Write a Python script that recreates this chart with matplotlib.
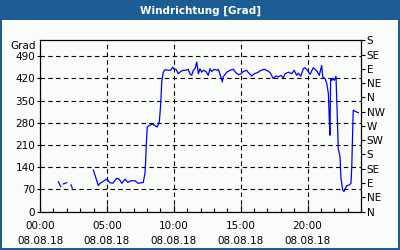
"""
Windrichtung 08.08.18 - Tagesverlauf
"""

import numpy as np
import matplotlib
matplotlib.use("Agg")
import matplotlib.pyplot as plt
from matplotlib.patches import Rectangle
from matplotlib.transforms import blended_transform_factory

# Zeit in Stunden (08.08.18), NaN = Messluecke
hours = [
    1.37, 1.55, np.nan,
    1.74, 2.0, np.nan,
    2.32, 2.41, np.nan,
    3.99, 4.36, 4.49, 4.99, 5.23, 5.44, 5.73, 5.93, 6.11, 6.36, 6.56, 6.80,
    7.10, 7.35, 7.72, 7.85, 7.89, 7.95, 8.02, 8.22, 8.40, 8.60, 8.77, 8.92,
    9.02, 9.10, 9.22, 9.35, 9.59, 9.77, 9.92, 10.04, 10.17, 10.34, 10.52,
    10.71, 10.92, 11.09, 11.21, 11.34, 11.46, 11.59, 11.72, 11.84, 11.96,
    12.09, 12.21, 12.41, 12.58, 12.71, 12.84, 13.01, 13.21, 13.33, 13.53,
    13.63, 13.70, 13.96, 14.21, 14.45, 14.63, 14.83, 15.03, 15.20, 15.45,
    15.57, 15.83, 16.02, 16.28, 16.52, 16.77, 16.95, 17.20, 17.44, 17.64,
    17.82, 18.02, 18.19, 18.32, 18.58, 18.83, 19.00, 19.19, 19.31, 19.49,
    19.69, 19.81, 19.99, 20.19, 20.43, 20.69, 20.88, 21.06, 21.14, 21.31,
    21.44, 21.56, 21.63, 21.68, 21.73, 21.80, 21.93, 22.00, 22.13, 22.23,
    22.30, 22.43, 22.50, 22.63, 22.73, 22.93, 23.13, 23.25, 23.31, 23.38,
    23.42, 23.63, 23.80,
]
degrees = [
    94, 79, np.nan,
    87, 91, np.nan,
    84, 74, np.nan,
    131, 82, 89, 102, 91, 89, 105, 102, 89, 102, 92, 97,
    97, 89, 92, 121, 150, 215, 267, 273, 276, 271, 267, 283,
    336, 409, 440, 448, 446, 446, 456, 449, 449, 435, 442,
    446, 446, 449, 435, 430, 446, 451, 472, 435, 451,
    440, 446, 442, 430, 451, 442, 449, 446, 449, 425,
    409, 425, 440, 446, 449, 439, 432, 435, 442, 446,
    439, 428, 435, 439, 446, 449, 446, 439, 420, 428,
    425, 430, 422, 435, 440, 435, 446, 430, 437, 427,
    451, 454, 446, 433, 454, 444, 430, 461, 425, 420,
    404, 373, 289, 241, 420, 414, 420, 414, 427, 299,
    199, 173, 105, 68, 63, 81, 84, 89, 142, 257,
    320, 315, 312,
]

x_ticks = [0, 5, 10, 15, 20]
x_labels = ["00:00\n08.08.18", "05:00\n08.08.18", "10:00\n08.08.18",
            "15:00\n08.08.18", "20:00\n08.08.18"]
y_ticks = [0, 70, 140, 210, 280, 350, 420, 490]
dir_ticks = [0, 45, 90, 135, 180, 225, 270, 315, 360, 405, 450, 495, 540]
dir_labels = ["N", "NE", "E", "SE", "S", "SW", "W", "NW", "N", "NE", "E", "SE", "S"]

frame_blue = "#1c5e94"
bg = "#fafcfa"

fig = plt.figure(figsize=(4, 2.5), dpi=100)
fig.patch.set_facecolor(frame_blue)
fig.add_artist(Rectangle((2 / 400, 2 / 250), 396 / 400, 228 / 250,
                         transform=fig.transFigure, facecolor=bg, edgecolor="none", zorder=0))
fig.text(0.5, 1 - 10.5 / 250, "Windrichtung [Grad]", color="white",
         fontsize=7.5, fontweight="bold", ha="center", va="center")

ax = fig.add_axes([40 / 400, 1 - 211.5 / 250, 321 / 400, 171 / 250])
ax.set_facecolor(bg)
ax.plot(hours, degrees, color="#0000ff", lw=0.9, zorder=3)

ax.set_xlim(0, 24)
ax.set_ylim(0, 540)
ax.set_xticks(x_ticks)
ax.set_xticklabels(x_labels, linespacing=1.6)
ax.set_xticks(np.arange(0, 25, 1), minor=True)
ax.set_yticks(y_ticks)
ax.set_yticklabels([str(v) for v in y_ticks])

ax.tick_params(axis="x", which="major", direction="in", length=5, width=0.8,
               pad=7, labelsize=7.5)
ax.tick_params(axis="x", which="minor", direction="in", length=3, width=0.8)
ax.tick_params(axis="y", direction="out", length=2, width=0.8, pad=1.5, labelsize=7.5)
ax.grid(True, which="major", color="black", linestyle=(0, (4, 3)), lw=0.8)
for s in ax.spines.values():
    s.set_linewidth(0.8)

trans = blended_transform_factory(ax.transAxes, ax.transData)
ax.text(-0.013, 523, "Grad", transform=trans, ha="right", va="center", fontsize=7.5)

ax2 = ax.twinx()
ax2.set_ylim(0, 540)
ax2.set_yticks(dir_ticks)
ax2.set_yticklabels(dir_labels)
ax2.tick_params(axis="y", direction="out", length=3, width=0.8, pad=1, labelsize=7.5)
for s in ax2.spines.values():
    s.set_linewidth(0.8)

fig.savefig("out.png", dpi=100, facecolor=fig.get_facecolor())
